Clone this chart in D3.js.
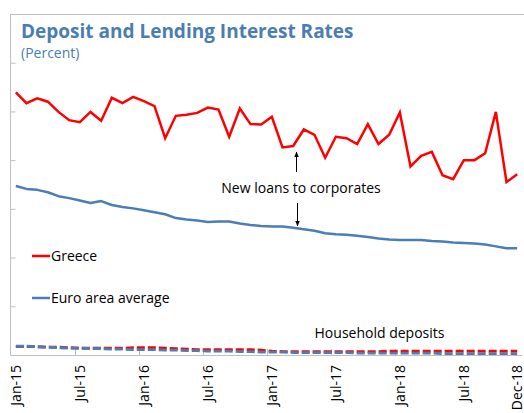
<!DOCTYPE html>
<html><head><meta charset="utf-8">
<script src="https://cdn.jsdelivr.net/npm/d3@7"></script>
<style>
html,body{margin:0;padding:0;background:#fff;}
svg{display:block;}
text{font-family:"Open Sans","Noto Sans",sans-serif;}
</style></head>
<body><svg id="c" width="524" height="413"></svg>
<script>
const months = ["Jan-15","Feb-15","Mar-15","Apr-15","May-15","Jun-15","Jul-15","Aug-15","Sep-15","Oct-15","Nov-15","Dec-15",
"Jan-16","Feb-16","Mar-16","Apr-16","May-16","Jun-16","Jul-16","Aug-16","Sep-16","Oct-16","Nov-16","Dec-16",
"Jan-17","Feb-17","Mar-17","Apr-17","May-17","Jun-17","Jul-17","Aug-17","Sep-17","Oct-17","Nov-17","Dec-17",
"Jan-18","Feb-18","Mar-18","Apr-18","May-18","Jun-18","Jul-18","Aug-18","Sep-18","Oct-18","Nov-18","Dec-18"];
const tickLabels = ["Jan-15","Jul-15","Jan-16","Jul-16","Jan-17","Jul-17","Jan-18","Jul-18","Dec-18"];
const yTicks = [0,1,2,3,4,5,6,7];

const greeceLoans = [5.39,5.17,5.27,5.20,4.99,4.82,4.78,4.99,4.81,5.28,5.17,5.30,
5.21,5.11,4.45,4.91,4.93,4.97,5.08,5.04,4.48,5.06,4.74,4.73,
4.89,4.26,4.29,4.63,4.52,4.05,4.48,4.45,4.33,4.74,4.33,4.52,
4.98,3.87,4.09,4.17,3.69,3.61,4.00,4.00,4.14,4.99,3.55,3.71];
const euroLoans = [3.47,3.41,3.39,3.34,3.26,3.22,3.17,3.12,3.16,3.08,3.04,3.01,
2.97,2.93,2.89,2.81,2.78,2.76,2.73,2.74,2.74,2.70,2.67,2.65,
2.64,2.64,2.61,2.58,2.55,2.50,2.48,2.47,2.45,2.42,2.39,2.37,
2.36,2.36,2.36,2.34,2.33,2.31,2.30,2.29,2.27,2.23,2.19,2.19];
const greeceDeposits = [0.17,0.17,0.17,0.16,0.16,0.15,0.14,0.14,0.14,0.14,0.14,0.15,
0.15,0.15,0.14,0.13,0.12,0.11,0.11,0.11,0.11,0.11,0.11,0.10,
0.08,0.07,0.07,0.07,0.07,0.07,0.07,0.07,0.07,0.07,0.07,0.08,
0.08,0.08,0.08,0.08,0.08,0.08,0.08,0.08,0.08,0.08,0.08,0.08];
const euroDeposits = [0.18,0.18,0.17,0.16,0.15,0.14,0.14,0.13,0.13,0.12,0.12,0.11,
0.11,0.11,0.10,0.10,0.09,0.09,0.08,0.08,0.08,0.07,0.07,0.06,
0.06,0.06,0.05,0.05,0.05,0.05,0.05,0.05,0.04,0.04,0.04,0.04,
0.04,0.04,0.04,0.04,0.03,0.03,0.03,0.03,0.03,0.03,0.03,0.03];

const RED = "#ff0000", BLUE = "#4a7eb5", GRID = "#bfbfbf";
const svg = d3.select("#c");
const pLeft = 10.5, pRight = 522.5, pTop = 14, pBottom = 355;

const x = d3.scaleBand().domain(months).range([pLeft, pRight]).padding(0);
const y = d3.scaleLinear().domain([0,7]).range([pBottom, pTop]);
const cx = d => x(d) + x.bandwidth()/2;

// frame top
svg.append("line").attr("x1",pLeft).attr("x2",524).attr("y1",pTop+0.5).attr("y2",pTop+0.5).attr("stroke",GRID);

// y axis (inside ticks, no labels)
const yAxis = d3.axisRight(y).tickValues(yTicks).tickSize(5).tickFormat("");
const gy = svg.append("g").attr("transform",`translate(${pLeft},0)`).call(yAxis);
gy.select(".domain").attr("stroke",GRID).attr("d",`M0,${pTop}V${pBottom}`);
gy.selectAll(".tick line").attr("stroke",GRID);

// x axis
const gx = svg.append("g").attr("transform",`translate(0,${pBottom})`);
gx.append("line").attr("x1",pLeft).attr("x2",pRight).attr("y1",0.5).attr("y2",0.5).attr("stroke",GRID);
const tickBoundaries = months.filter((m,i)=> i%6===0 && i>0);
gx.selectAll("line.t").data(tickBoundaries).join("line").attr("class","t")
  .attr("x1",d=>Math.round(x(d))+0.5).attr("x2",d=>Math.round(x(d))+0.5)
  .attr("y1",0).attr("y2",-6).attr("stroke",GRID);
svg.selectAll("text.xl").data(tickLabels).join("text").attr("class","xl")
  .attr("transform",d=>`translate(${cx(d)},${pBottom+10}) rotate(-90)`)
  .attr("text-anchor","end").attr("dy","0.35em")
  .attr("font-size","14px").attr("fill","#000").text(d=>d);

// lines
const line = vals => d3.line().x((d,i)=>cx(months[i])).y(d=>y(d))(vals);
svg.append("path").attr("d",line(greeceDeposits)).attr("fill","none").attr("stroke",RED)
  .attr("stroke-width",2.8).attr("stroke-dasharray","8,3");
svg.append("path").attr("d",line(euroDeposits)).attr("fill","none").attr("stroke",BLUE)
  .attr("stroke-width",2.8).attr("stroke-dasharray","8,3");
svg.append("path").attr("d",line(euroLoans)).attr("fill","none").attr("stroke",BLUE)
  .attr("stroke-width",2.5).attr("stroke-linejoin","round");
svg.append("path").attr("d",line(greeceLoans)).attr("fill","none").attr("stroke",RED)
  .attr("stroke-width",2.5).attr("stroke-linejoin","miter");

// title
svg.append("text").attr("x",21).attr("y",38).attr("font-size","19px").attr("font-weight","bold")
  .attr("fill","#4a7eb0").text("Deposit and Lending Interest Rates");
svg.append("text").attr("x",21).attr("y",58).attr("font-size","14px")
  .attr("fill","#4a7eb0").text("(Percent)");

// legend
const legend = [{name:"Greece",color:RED,y:256},{name:"Euro area average",color:BLUE,y:298}];
legend.forEach(l=>{
  svg.append("line").attr("x1",32).attr("x2",50).attr("y1",l.y).attr("y2",l.y).attr("stroke",l.color).attr("stroke-width",2.5);
  svg.append("text").attr("x",51).attr("y",l.y).attr("dy","0.35em").attr("font-size","14px").attr("fill","#000").text(l.name);
});

// annotations
svg.append("defs").append("marker").attr("id","ah").attr("viewBox","0 0 10 10").attr("refX",9).attr("refY",5)
  .attr("markerWidth",6).attr("markerHeight",6).attr("orient","auto")
  .append("path").attr("d","M0,1L10,5L0,9Z").attr("fill","#000");
svg.append("text").attr("x",301).attr("y",193).attr("text-anchor","middle").attr("font-size","14px").attr("fill","#000").text("New loans to corporates");
svg.append("line").attr("x1",296.5).attr("x2",296.5).attr("y1",172).attr("y2",152).attr("stroke","#000").attr("stroke-width",1).attr("marker-end","url(#ah)");
svg.append("line").attr("x1",297.5).attr("x2",297.5).attr("y1",203).attr("y2",226).attr("stroke","#000").attr("stroke-width",1).attr("marker-end","url(#ah)");
svg.append("text").attr("x",379.5).attr("y",338).attr("text-anchor","middle").attr("font-size","14px").attr("fill","#000").text("Household deposits");
</script></body></html>
